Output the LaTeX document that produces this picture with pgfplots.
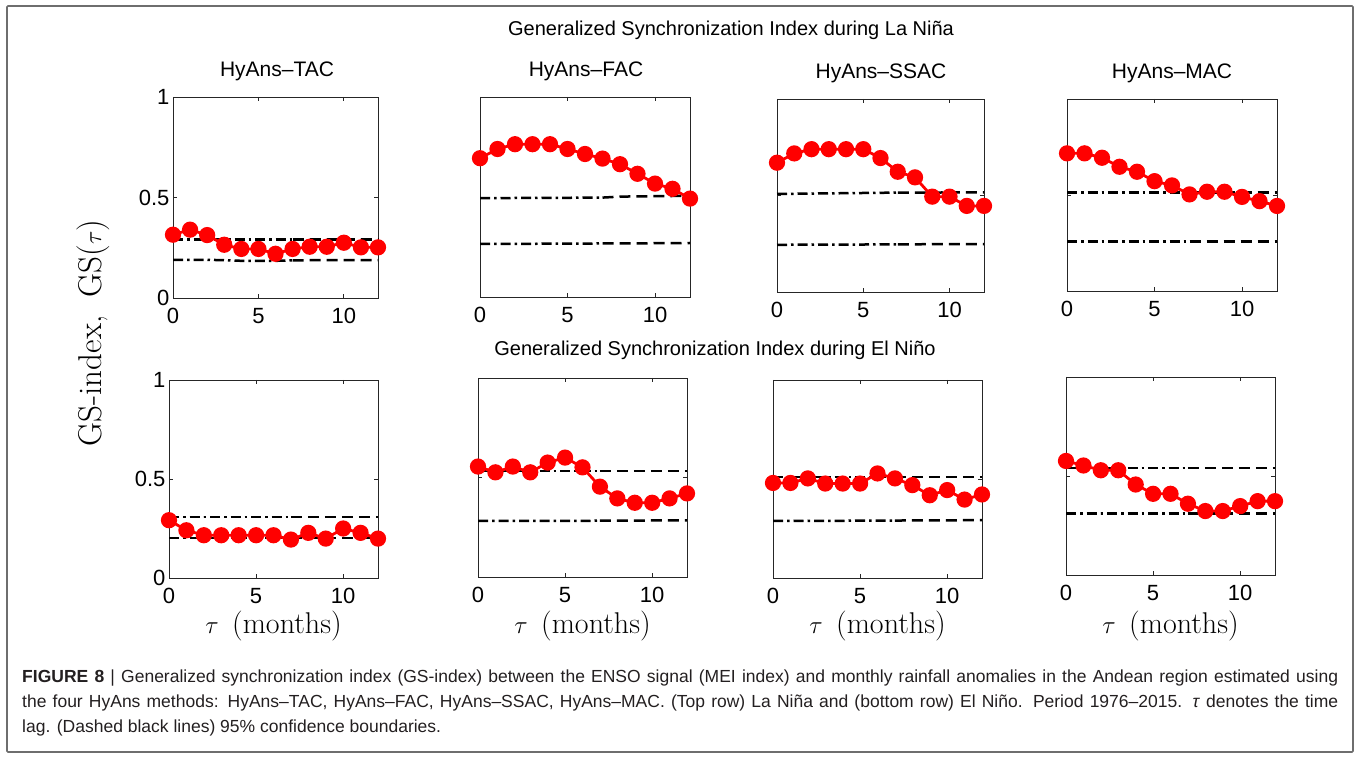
\documentclass[border=0pt]{standalone}
\usepackage{pgfplots}
\pgfplotsset{compat=1.18}
\usepackage{pgfplotstable}
\usepackage{fontspec}
\setmainfont{Liberation Sans}
\newfontfamily\lmr{Latin Modern Roman}

\definecolor{framegray}{RGB}{110,110,110}
\definecolor{captext}{RGB}{35,31,32}

% GS-index (gs) and lower/upper 95% confidence bounds (lo, hi) per lag tau
\pgfplotstableread{
tau gs lo hi
0 0.315 0.190 0.290
1 0.340 0.190 0.290
2 0.313 0.190 0.290
3 0.265 0.188 0.290
4 0.244 0.185 0.290
5 0.244 0.185 0.290
6 0.220 0.185 0.290
7 0.244 0.187 0.290
8 0.255 0.188 0.290
9 0.255 0.188 0.290
10 0.275 0.188 0.290
11 0.252 0.188 0.290
12 0.252 0.188 0.290
}\tacNina
\pgfplotstableread{
tau gs lo hi
0 0.694 0.266 0.494
1 0.740 0.266 0.494
2 0.764 0.266 0.495
3 0.764 0.266 0.495
4 0.764 0.267 0.496
5 0.740 0.267 0.496
6 0.715 0.267 0.497
7 0.692 0.268 0.497
8 0.664 0.268 0.502
9 0.616 0.268 0.503
10 0.567 0.269 0.504
11 0.541 0.269 0.505
12 0.492 0.270 0.506
}\facNina
\pgfplotstableread{
tau gs lo hi
0 0.670 0.244 0.508
1 0.718 0.245 0.509
2 0.740 0.245 0.510
3 0.740 0.246 0.511
4 0.740 0.246 0.512
5 0.740 0.246 0.513
6 0.694 0.247 0.514
7 0.623 0.247 0.515
8 0.594 0.247 0.515
9 0.494 0.248 0.515
10 0.494 0.248 0.516
11 0.446 0.248 0.516
12 0.446 0.248 0.516
}\ssacNina
\pgfplotstableread{
tau gs lo hi
0 0.717 0.259 0.513
1 0.717 0.259 0.513
2 0.694 0.259 0.513
3 0.647 0.259 0.513
4 0.621 0.259 0.513
5 0.572 0.259 0.513
6 0.550 0.259 0.513
7 0.503 0.259 0.513
8 0.517 0.259 0.513
9 0.517 0.259 0.513
10 0.490 0.259 0.513
11 0.468 0.259 0.513
12 0.443 0.259 0.513
}\macNina
\pgfplotstableread{
tau gs lo hi
0 0.292 0.202 0.309
1 0.241 0.202 0.309
2 0.216 0.202 0.309
3 0.216 0.202 0.309
4 0.216 0.202 0.309
5 0.216 0.202 0.309
6 0.216 0.202 0.309
7 0.194 0.202 0.309
8 0.228 0.202 0.309
9 0.199 0.202 0.309
10 0.250 0.202 0.309
11 0.228 0.202 0.309
12 0.199 0.202 0.309
}\tacNino
\pgfplotstableread{
tau gs lo hi
0 0.555 0.282 0.533
1 0.526 0.282 0.533
2 0.555 0.282 0.533
3 0.526 0.282 0.533
4 0.575 0.282 0.533
5 0.600 0.282 0.533
6 0.551 0.282 0.533
7 0.454 0.283 0.533
8 0.395 0.283 0.533
9 0.373 0.283 0.533
10 0.373 0.284 0.533
11 0.395 0.284 0.533
12 0.420 0.284 0.533
}\facNino
\pgfplotstableread{
tau gs lo hi
0 0.480 0.288 0.511
1 0.480 0.288 0.511
2 0.503 0.289 0.511
3 0.477 0.289 0.511
4 0.477 0.289 0.511
5 0.477 0.290 0.511
6 0.528 0.290 0.511
7 0.503 0.290 0.511
8 0.469 0.291 0.511
9 0.418 0.291 0.511
10 0.444 0.291 0.511
11 0.396 0.292 0.511
12 0.422 0.292 0.511
}\ssacNino
\pgfplotstableread{
tau gs lo hi
0 0.576 0.311 0.541
1 0.553 0.311 0.541
2 0.529 0.311 0.541
3 0.529 0.311 0.541
4 0.457 0.311 0.541
5 0.410 0.311 0.541
6 0.410 0.311 0.541
7 0.360 0.311 0.541
8 0.323 0.311 0.541
9 0.323 0.311 0.541
10 0.348 0.311 0.541
11 0.373 0.311 0.541
12 0.373 0.311 0.541
}\macNino

\pgfplotsset{
  gspanel/.style={
    scale only axis, anchor=south west,
    xmin=0, xmax=12, ymin=0, ymax=1,
    xtick={0,5,10}, ytick={0,0.5,1},
    yticklabels={},
    tick align=inside, major tick length=4pt,
    axis line style={line width=0.9pt, black!85},
    every tick/.style={line width=0.8pt, black!85},
    ticklabel style={font=\fontsize{22}{22}\selectfont},
    xticklabel style={yshift=-7pt},
    /pgf/number format/assume math mode=true,
    clip=false,
  },
  firstcol/.style={yticklabels={0,0.5,1}},
  bounddd/.style={black, line width=2.5pt, dash pattern=on 10pt off 4pt on 2.5pt off 4pt},
  bounddash/.style={black, line width=2.5pt, dash pattern=on 11pt off 6pt},
  gsline/.style={red, line width=2.8pt, mark=*, mark size=6.7pt,
    mark options={solid, fill=red, draw=red}},
}

% confidence bounds, then the GS-index curve
\newcommand{\gsseries}[1]{%
  \addplot[bounddd, restrict x to domain=0:7] table[x=tau, y=hi]{#1};
  \addplot[bounddash, restrict x to domain=7:12] table[x=tau, y=hi]{#1};
  \addplot[bounddd, restrict x to domain=0:7] table[x=tau, y=lo]{#1};
  \addplot[bounddash, restrict x to domain=7:12] table[x=tau, y=lo]{#1};
  \addplot[gsline] table[x=tau, y=gs]{#1};
}

\begin{document}
\begin{tikzpicture}[x=1pt, y=1pt]
\path (0,0) rectangle (1357,758);
\draw[framegray, line width=1.6pt, rounded corners=1pt] (7,6) rectangle (1353,752);

% La Niña row
\node[font=\fontsize{20}{20}\selectfont] at (731,728) {Generalized Synchronization Index during La Niña};
\node[font=\fontsize{21}{21}\selectfont] at (277,687) {HyAns–TAC};
\node[font=\fontsize{21}{21}\selectfont] at (586,687) {HyAns–FAC};
\node[font=\fontsize{21}{21}\selectfont] at (881,685) {HyAns–SSAC};
\node[font=\fontsize{21}{21}\selectfont] at (1172,685) {HyAns–MAC};

\begin{axis}[gspanel, firstcol, at={(173pt,460pt)}, width=205pt, height=201pt]
\gsseries{\tacNina}
\end{axis}
\begin{axis}[gspanel, at={(480pt,461pt)}, width=210pt, height=200pt]
\gsseries{\facNina}
\end{axis}
\begin{axis}[gspanel, at={(777pt,466pt)}, width=207pt, height=193pt]
\gsseries{\ssacNina}
\end{axis}
\begin{axis}[gspanel, at={(1067pt,467pt)}, width=210pt, height=192pt]
\gsseries{\macNina}
\end{axis}

% El Niño row
\node[font=\fontsize{20}{20}\selectfont] at (715,408) {Generalized Synchronization Index during El Niño};

\begin{axis}[gspanel, firstcol, at={(169pt,180pt)}, width=209pt, height=198pt]
\gsseries{\tacNino}
\end{axis}
\begin{axis}[gspanel, at={(478pt,181pt)}, width=209pt, height=199pt]
\gsseries{\facNino}
\end{axis}
\begin{axis}[gspanel, at={(773pt,180pt)}, width=209pt, height=198pt]
\gsseries{\ssacNino}
\end{axis}
\begin{axis}[gspanel, at={(1066pt,183pt)}, width=209pt, height=198pt]
\gsseries{\macNino}
\end{axis}

% axis labels
\foreach \cx in {273.5,582.5,877.5,1170.5}
  \node[font=\lmr\fontsize{30}{30}\selectfont] at (\cx,132) {$\tau$\hspace{0.45em}(months)};
\node[rotate=90, font=\lmr\fontsize{33}{33}\selectfont] at (93,425) {GS-index,\hspace{0.55em}GS($\tau$)};

% caption
\node[anchor=base west, inner sep=0pt, text width=1316pt, align=justify,
      text=captext, font=\fontsize{17.5}{25}\selectfont] at (22,76)
 {\textbf{FIGURE 8} | Generalized synchronization index (GS-index) between the ENSO signal (MEI index) and monthly rainfall anomalies in the Andean region estimated using\linebreak
 the four HyAns methods: HyAns–TAC, HyAns–FAC, HyAns–SSAC, HyAns–MAC. (Top row) La Niña and (bottom row) El Niño. Period 1976–2015. \textit{τ} denotes the time\linebreak
 lag. (Dashed black lines) 95\% confidence boundaries.};
\end{tikzpicture}
\end{document}
